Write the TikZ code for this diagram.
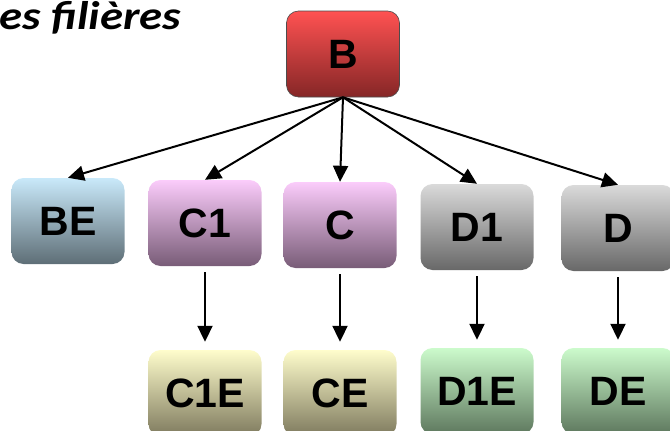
\documentclass[tikz,border=0pt]{standalone}
\usepackage{fontspec}
\setmainfont{Liberation Sans}
\newfontfamily\titlefont[FakeStretch=1.17]{Carlito}
\usetikzlibrary{arrows.meta}
\usetikzlibrary{arrows}

\definecolor{redtop}{HTML}{FF5252}
\definecolor{redbot}{HTML}{852626}
\definecolor{bluetop}{HTML}{C9E9FA}
\definecolor{bluebot}{HTML}{5E6E76}
\definecolor{pinktop}{HTML}{FBCCFB}
\definecolor{pinkbot}{HTML}{785C77}
\definecolor{greytop}{HTML}{DADADA}
\definecolor{greybot}{HTML}{686868}
\definecolor{yeltop}{HTML}{FFFDCC}
\definecolor{yelbot}{HTML}{7E7A5E}
\definecolor{greentop}{HTML}{CCFBCC}
\definecolor{greenbot}{HTML}{5E785E}

\begin{document}
\begin{tikzpicture}[x=1pt,y=1pt]
  \tikzset{box/.style = {rounded corners=12pt,minimum width=113pt,minimum height=86pt,inner sep=0pt,font=\fontsize{41}{41}\selectfont\bfseries}}
  \tikzset{edge/.style = {-{Triangle[length=16pt,width=15pt]},line width=2pt}}
  \useasboundingbox (0,0) rectangle (670,-431);

	\node[anchor=base west,inner sep=0pt,font=\titlefont\fontsize{40}{40}\selectfont\bfseries\itshape] (title) at (-1,-30) {es filières};

	\node[box,top color=redtop,bottom color=redbot,draw=black!70,line width=0.6pt] (B) at (343,-54) {B};

	\node[box,top color=bluetop,bottom color=bluebot] (BE) at (68,-221) {BE};
	\node[box,top color=pinktop,bottom color=pinkbot] (C1) at (205,-223) {C1};
	\node[box,top color=pinktop,bottom color=pinkbot] (C) at (340,-225) {C};
	\node[box,top color=greytop,bottom color=greybot] (D1) at (477,-227) {D1};
	\node[box,top color=greytop,bottom color=greybot] (D) at (618,-228) {D};

	\node[box,top color=yeltop,bottom color=yelbot] (C1E) at (205,-393) {C1E};
	\node[box,top color=yeltop,bottom color=yelbot] (CE) at (340,-393) {CE};
	\node[box,top color=greentop,bottom color=greenbot] (D1E) at (477,-391) {D1E};
	\node[box,top color=greentop,bottom color=greenbot] (DE) at (618,-391) {DE};

	\foreach \to in {BE, C1, C, D1, D}
    \draw[edge] (B.south) -- (\to.north);
	\foreach \from/\to in {C1/C1E, C/CE, D1/D1E, D/DE}
    \draw[edge,shorten <=6pt,shorten >=8pt] (\from) -- (\to);
\end{tikzpicture}
\end{document}
